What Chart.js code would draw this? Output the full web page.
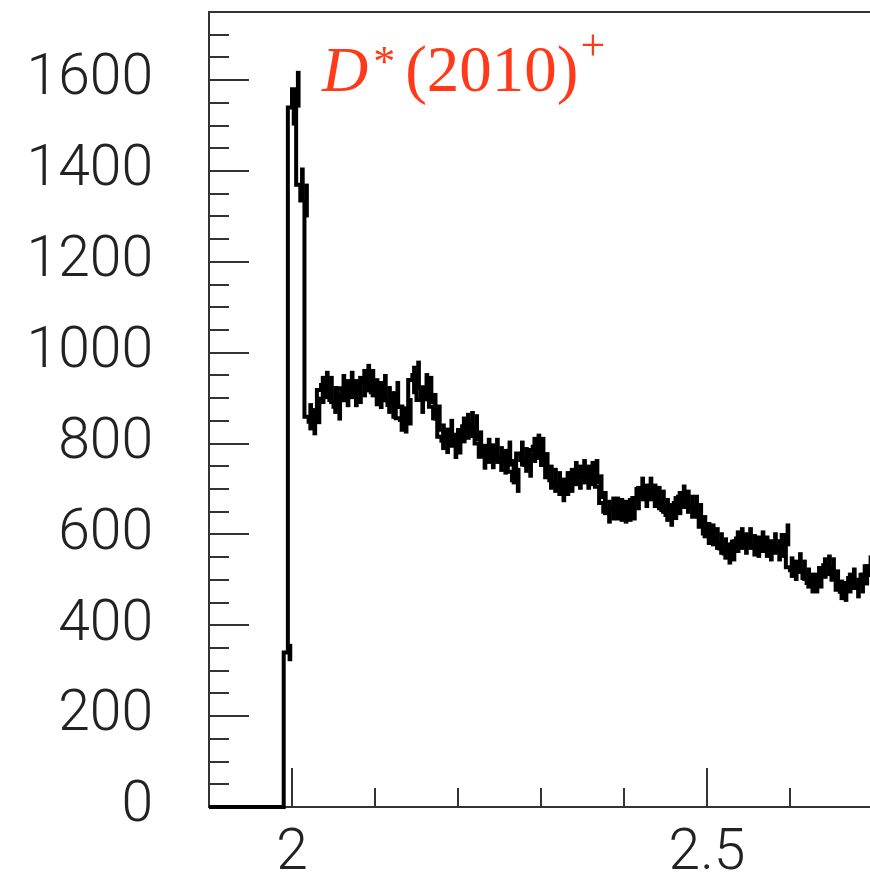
<!DOCTYPE html>
<html><head><meta charset="utf-8">
<script src="https://cdn.jsdelivr.net/npm/chart.js@4"></script>
<style>html,body{margin:0;padding:0;overflow:hidden;background:#fff}#wrap{width:873px;height:876px;position:relative}</style>
</head><body><div id="wrap"><canvas id="c"></canvas></div>
<script>
// ---- data ----
const binLow = 1.9;
const binWidth = 0.005;
const counts = [
  0,0,0,0,0,0,0,0,0,0,0,0,0,0,0,0,0,0,0,
  340,1540,1580,1370,1335,
  859,848,873,918,929,918,896,881,922,911,929,911,918,933,944,933,913,907,922,896,885,907,856,852,870,940,951,896,924,918,881,856,
  815,806,825,795,805,830,838,842,835,800,771,784,772,784,766,760,778,738,719,778,764,753,786,793,786,753,726,719,712,698,712,719,734,726,738,726,734,738,705,
  669,650,657,657,654,650,654,657,680,700,685,700,685,680,672,654,643,658,669,683,672,661,661,643,617,602,599,591,580,569,558,565,584,591,580,591,576,573,584,573,565,580,565,573,599,
  528,521,537,521,504,493,493,504,526,532,526,500,478,474,493,504,482,493,511,530
];
const xRange = [1.9, 2.7];
const yRange = [0, 1750];
const xTickLabels = [2, 2.5];
const yTickLabels = [0, 200, 400, 600, 800, 1000, 1200, 1400, 1600];
const xMinorStep = 0.1, xMajorStep = 0.5;
const yMinorStep = 50, yMajorStep = 200;
const annotation = {main: 'D', sup1: '*', mid: '(2010)', sup2: '+'};

// ---- derived for the library ----
const stepPts = counts.map((v, i) => ({x: binLow + i * binWidth, y: v}));
stepPts.push({x: binLow + counts.length * binWidth, y: counts[counts.length - 1]});
const errPts = counts.map((v, i) => ({x: binLow + (i + 0.5) * binWidth, y: [v - Math.sqrt(v), v + Math.sqrt(v)]}))
  .filter(p => p.y[1] > p.y[0]);

const tickFont = {family: 'Roboto', size: 57, weight: '300'};

const decor = {
  id: 'decor',
  beforeDatasetsDraw(chart) {
    const {ctx, chartArea: a, scales: {x, y}} = chart;
    ctx.save();
    ctx.strokeStyle = '#333';
    ctx.lineWidth = 2;
    ctx.beginPath();
    ctx.moveTo(a.left - 1, a.top); ctx.lineTo(a.right, a.top);
    for (let k = Math.round(yRange[0] / yMinorStep); k * yMinorStep <= yRange[1]; k++) {
      const v = k * yMinorStep;
      const py = Math.round(y.getPixelForValue(v));
      const len = (v % yMajorStep === 0) ? 40 : 20;
      ctx.moveTo(a.left, py); ctx.lineTo(a.left + len, py);
    }
    for (let k = Math.round(xRange[0] / xMinorStep); k * xMinorStep <= xRange[1] + 1e-9; k++) {
      const v = k * xMinorStep;
      const px = Math.round(x.getPixelForValue(v));
      const isMajor = Math.abs(v / xMajorStep - Math.round(v / xMajorStep)) < 1e-6;
      const len = isMajor ? 39 : 19;
      ctx.moveTo(px, a.bottom); ctx.lineTo(px, a.bottom - len);
    }
    ctx.stroke();
    ctx.restore();
  },
  afterDraw(chart) {
    const {ctx} = chart;
    ctx.save();
    ctx.fillStyle = '#ff3a1a';
    ctx.textBaseline = 'alphabetic';
    let xp = 322; const base = 91;
    ctx.font = 'italic 64px "Liberation Serif"';
    ctx.fillText(annotation.main, xp, base);
    xp += ctx.measureText(annotation.main).width + 5;
    ctx.font = '44px "Liberation Serif"';
    ctx.fillText(annotation.sup1, xp, base - 15);
    xp += ctx.measureText(annotation.sup1).width + 10;
    ctx.font = '65px "Liberation Serif"';
    ctx.fillText(annotation.mid, xp, base);
    xp += ctx.measureText(annotation.mid).width + 2;
    ctx.font = '44px "Liberation Serif"';
    ctx.fillText(annotation.sup2, xp, base - 31);
    ctx.restore();
  }
};

new Chart(document.getElementById('c'), {
  type: 'line',
  data: {
    datasets: [
      {type: 'line', data: stepPts, stepped: 'after', borderColor: '#000', borderWidth: 4,
       pointRadius: 0, fill: false, tension: 0, clip: 4, order: 1},
      {type: 'bar', data: errPts, backgroundColor: '#000', borderWidth: 0, barThickness: 4,
       grouped: false, clip: 4, order: 2}
    ]
  },
  options: {
    responsive: true, maintainAspectRatio: false, animation: false,
    layout: {padding: {top: 12, right: 0, bottom: 0, left: 0}},
    plugins: {legend: {display: false}, tooltip: {enabled: false}},
    scales: {
      x: {type: 'linear', min: xRange[0], max: xRange[1], offset: false,
          grid: {display: false, drawTicks: false, offset: false},
          border: {display: true, color: '#333', width: 2},
          ticks: {font: tickFont, color: '#222', padding: 14, maxRotation: 0, autoSkip: false,
                  callback: v => String(v)},
          afterBuildTicks: s => { s.ticks = xTickLabels.map(v => ({value: v})); },
          afterFit: s => { s.height = 69; s.paddingLeft = 0; s.paddingRight = 0; }},
      y: {type: 'linear', min: yRange[0], max: yRange[1],
          grid: {display: false, drawTicks: false},
          border: {display: true, color: '#333', width: 2},
          ticks: {font: tickFont, color: '#222', padding: 56, autoSkip: false,
                  callback: v => String(v)},
          afterBuildTicks: s => { s.ticks = yTickLabels.map(v => ({value: v})); },
          afterFit: s => { s.width = 209; s.paddingTop = 0; s.paddingBottom = 0; }}
    }
  },
  plugins: [decor]
});
</script></body></html>
